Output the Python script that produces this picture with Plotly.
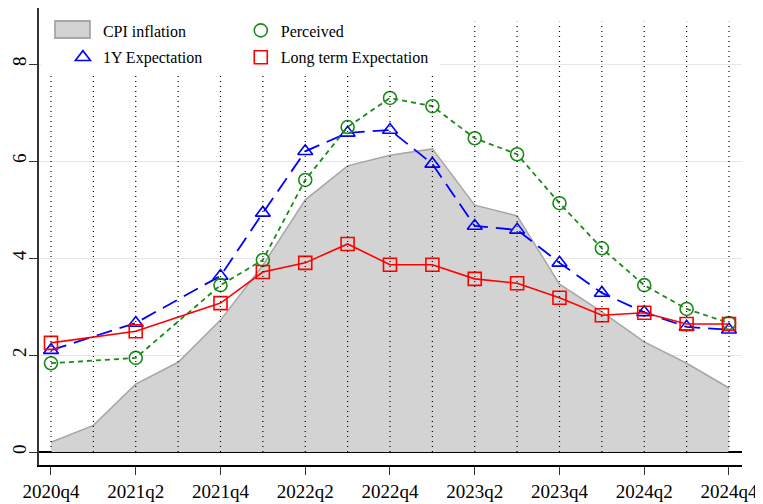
import plotly.graph_objects as go

quarters = ["2020q4", "2021q1", "2021q2", "2021q3", "2021q4", "2022q1", "2022q2", "2022q3",
            "2022q4", "2023q1", "2023q2", "2023q3", "2023q4", "2024q1", "2024q2", "2024q3", "2024q4"]
tick_labels = ["2020q4", "2021q2", "2021q4", "2022q2", "2022q4", "2023q2", "2023q4", "2024q2", "2024q4"]

cpi = [0.20, 0.55, 1.40, 1.85, 2.72, 3.85, 5.20, 5.90, 6.12, 6.25, 5.09, 4.87, 3.46, 2.89, 2.27, 1.83, 1.32]
exp_1y = [2.10, None, 2.66, None, 3.63, 4.93, 6.20, 6.58, 6.64, 5.94, 4.66, 4.58, 3.90, 3.28, 2.88, 2.58, 2.52]
perceived = [1.83, None, 1.94, None, 3.44, 3.96, 5.61, 6.70, 7.30, 7.13, 6.47, 6.14, 5.13, 4.20, 3.44, 2.95, 2.66]
long_term = [2.25, None, 2.49, None, 3.07, 3.71, 3.90, 4.29, 3.86, 3.86, 3.57, 3.48, 3.18, 2.82, 2.87, 2.64, 2.64]

FONT = "Liberation Serif"
BLUE = "#0000ff"
GREEN = "#1a8a1a"
RED = "#ff0000"
AREA_FILL = "#d3d3d3"
AREA_EDGE = "#a6a6a6"

fig = go.Figure()

fig.add_trace(go.Scatter(
    x=quarters, y=cpi, name="CPI inflation", mode="lines", fill="tozeroy",
    fillcolor=AREA_FILL, line=dict(color=AREA_EDGE, width=1.5), showlegend=False))

fig.add_trace(go.Scatter(
    x=quarters, y=exp_1y, name="1Y Expectation", mode="lines+markers", connectgaps=True,
    line=dict(color=BLUE, width=1.8, dash="16px,8px"),
    marker=dict(symbol="triangle-up-open", size=13, color=BLUE, line=dict(width=1.6)),
    showlegend=False))

fig.add_trace(go.Scatter(
    x=quarters, y=perceived, name="Perceived", mode="lines+markers", connectgaps=True,
    line=dict(color=GREEN, width=1.8, dash="5px,4px"),
    marker=dict(symbol="circle-open", size=13, color=GREEN, line=dict(width=1.6)),
    showlegend=False))

fig.add_trace(go.Scatter(
    x=quarters, y=long_term, name="Long term Expectation", mode="lines+markers", connectgaps=True,
    line=dict(color=RED, width=1.6),
    marker=dict(symbol="square-open", size=13, color=RED, line=dict(width=1.6)),
    showlegend=False))

# legend entries (symbols only, as in the reference); CPI key box is drawn as a shape
fig.add_trace(go.Scatter(x=[None], y=[None], name="CPI inflation", mode="markers",
                         marker=dict(symbol="square", size=13, color="rgba(0,0,0,0)"),
                         legend="legend", legendgroup="a"))
fig.add_trace(go.Scatter(x=[None], y=[None], name="1Y Expectation", mode="markers",
                         marker=dict(symbol="triangle-up-open", size=13, color=BLUE, line=dict(width=1.6)),
                         legend="legend", legendgroup="b"))
fig.add_trace(go.Scatter(x=[None], y=[None], name="Perceived", mode="markers",
                         marker=dict(symbol="circle-open", size=13, color=GREEN, line=dict(width=1.6)),
                         legend="legend2", legendgroup="c"))
fig.add_trace(go.Scatter(x=[None], y=[None], name="Long term Expectation", mode="markers",
                         marker=dict(symbol="square-open", size=13, color=RED, line=dict(width=1.6)),
                         legend="legend2", legendgroup="d"))

shapes = []
for q in quarters:
    shapes.append(dict(type="line", xref="x", yref="y", x0=q, x1=q, y0=0, y1=8.87,
                       line=dict(color="black", width=1.2, dash="1px,4px"), layer="above"))
# legend background and CPI legend key
shapes.append(dict(type="rect", xref="paper", yref="paper", x0=0.003, x1=0.570, y0=0.860, y1=1.0,
                   fillcolor="white", line=dict(width=0), layer="above"))
shapes.append(dict(type="rect", xref="paper", yref="paper", x0=0.0228, x1=0.0725, y0=0.9344, y1=0.9716,
                   fillcolor=AREA_FILL, line=dict(color=AREA_EDGE, width=1.8), layer="above"))

# page body has an 8px margin: figure is sized/offset to compensate
fig.update_layout(
    width=755, height=496,
    margin=dict(l=31, r=21, t=0, b=39),
    paper_bgcolor="white", plot_bgcolor="white",
    font=dict(family=FONT, size=19, color="black"),
    shapes=shapes,
    showlegend=True,
    legend=dict(x=0.034, y=0.988, xanchor="left", yanchor="top", bgcolor="rgba(0,0,0,0)", borderwidth=0,
                font=dict(family=FONT, size=16, color="black"), tracegroupgap=3,
                traceorder="grouped"),
    legend2=dict(x=0.287, y=0.988, xanchor="left", yanchor="top", bgcolor="rgba(0,0,0,0)", borderwidth=0,
                 font=dict(family=FONT, size=16, color="black"), tracegroupgap=3,
                 traceorder="grouped"),
    xaxis=dict(type="category", categoryorder="array", categoryarray=quarters,
               range=[-0.283, 16.307], tickmode="array", tickvals=tick_labels, ticktext=tick_labels,
               tickangle=0,
               showgrid=False, showline=True, linecolor="black", linewidth=1.5,
               ticks="outside", ticklen=8, tickcolor="#333333", tickwidth=1,
               tickfont=dict(family=FONT, size=19, color="black"), zeroline=False),
    yaxis=dict(range=[-0.268, 9.155], tickmode="array", tickvals=[0, 2, 4, 6, 8],
               showgrid=True, gridcolor="#e6e6e6", gridwidth=1,
               zeroline=True, zerolinecolor="black", zerolinewidth=2,
               showline=True, linecolor="#333333", linewidth=1.5,
               ticks="outside", ticklen=8, tickcolor="#333333", tickwidth=1,
               tickangle=-90, ticklabelstandoff=-4,
               tickfont=dict(family=FONT, size=19, color="black")),
)

fig.write_html("out.html")
